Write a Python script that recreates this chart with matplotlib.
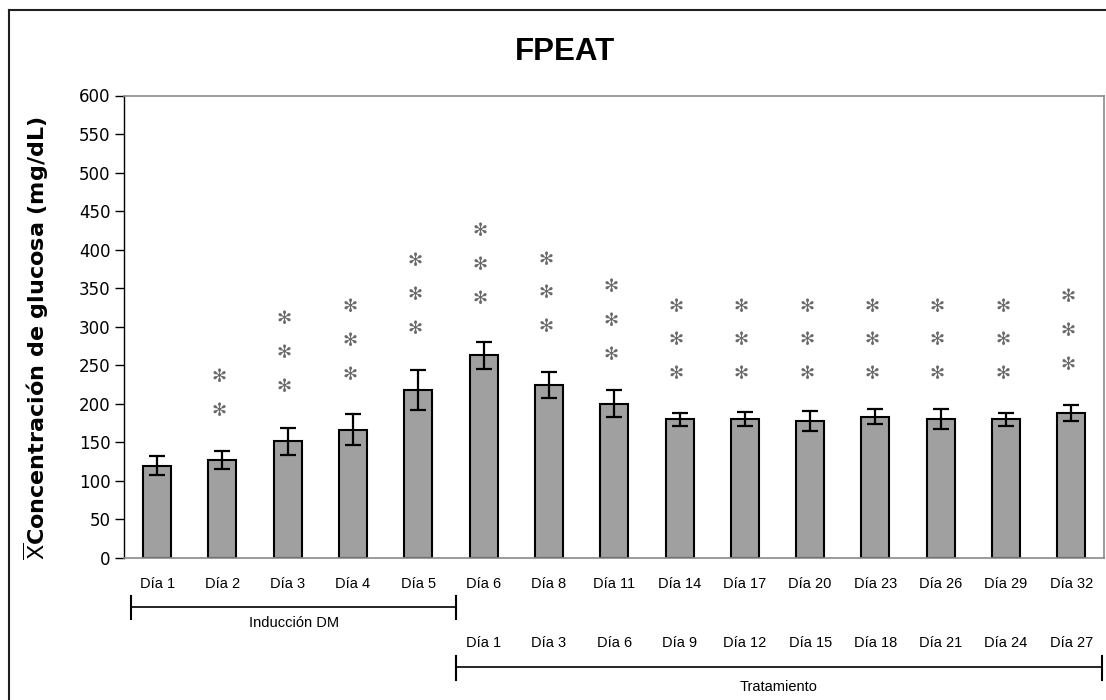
import matplotlib
matplotlib.use('Agg')
import matplotlib.pyplot as plt
from matplotlib.lines import Line2D
from matplotlib.transforms import blended_transform_factory
import numpy as np

# ---------------- data ----------------
title = "FPEAT"
days_top = ["Día 1", "Día 2", "Día 3", "Día 4", "Día 5", "Día 6", "Día 8", "Día 11",
            "Día 14", "Día 17", "Día 20", "Día 23", "Día 26", "Día 29", "Día 32"]
days_treat = ["Día 1", "Día 3", "Día 6", "Día 9", "Día 12", "Día 15", "Día 18",
              "Día 21", "Día 24", "Día 27"]
means = [119.5, 127, 151, 166, 218, 262.5, 224, 200, 179.5, 180, 177, 183, 179.5, 179.5, 187.5]
sds = [12, 12, 18, 20, 26, 18, 17, 18, 8, 9, 13, 9.5, 13, 8, 10.5]
star_counts = [0, 2, 3, 3, 3, 3, 3, 3, 3, 3, 3, 3, 3, 3, 3]
star_base = [0, 191, 222, 237, 297, 336, 299, 263, 238, 238, 238, 238, 238, 238, 250]
y_ticks = list(range(0, 601, 50))
group_labels = ["Inducción DM", "Tratamiento"]

# ---------------- figure ----------------
W, H = 1106, 700
fig = plt.figure(figsize=(W / 100, H / 100), dpi=100)
ax = fig.add_axes([124.5 / W, 1 - 557.7 / H, (1104 - 124.5) / W, (557.7 - 95.5) / H])

x = np.arange(len(means))
ax.bar(x, means, width=0.43, color='#a0a0a0', edgecolor='black', linewidth=1.5,
       yerr=sds, capsize=6,
       error_kw=dict(elinewidth=1.6, capthick=1.6, ecolor='black'), zorder=2)

# asterisks
star_step = 44
for i, (n, b) in enumerate(zip(star_counts, star_base)):
    for k in range(n):
        ax.text(i - 0.05, b + k * star_step, '✻', ha='center', va='center',
                fontsize=13, color='#6a6a6a', family='DejaVu Sans')

ax.set_xlim(-0.5, len(means) - 0.5)
ax.set_ylim(0, 600)
ax.set_yticks(y_ticks)
ax.set_yticklabels([str(v) for v in y_ticks], family='DejaVu Sans', fontsize=12)
ax.set_xticks(x)
ax.set_xticklabels(days_top, family='Liberation Sans', fontsize=10.5)
ax.tick_params(axis='y', direction='out', length=6.5, width=1, pad=3.5)
ax.tick_params(axis='x', length=0, pad=14)

for s in ['top', 'right', 'bottom']:
    ax.spines[s].set_color('#8a8a8a')
    ax.spines[s].set_linewidth(1.2)
ax.spines['left'].set_color('black')
ax.spines['left'].set_linewidth(1.0)
ax.spines['bottom'].set_zorder(3)

# second row of labels (treatment days)
for i, lab in enumerate(days_treat):
    ax.annotate(lab, xy=(5 + i, 0), xycoords=('data', 'axes fraction'),
                xytext=(0, -(643 - 557.7) * 0.72), textcoords='offset points',
                ha='center', va='center', family='Liberation Sans', fontsize=10.5)

# brackets
trans = blended_transform_factory(ax.transData, fig.transFigure)
def bracket(x0, x1, ypx, t0, t1, label, label_y):
    y = 1 - ypx / H
    fig.add_artist(Line2D([x0, x1], [y, y], transform=trans, color='black', lw=1.2))
    for xx in (x0, x1):
        fig.add_artist(Line2D([xx, xx], [1 - t0 / H, 1 - t1 / H], transform=trans,
                              color='black', lw=1.5))
    fig.text((x0 + x1) / 2, 1 - label_y / H, label, transform=trans, ha='center',
             va='center', family='Liberation Sans', fontsize=10.5)

bracket(-0.4, 4.58, 607, 596, 619, group_labels[0], 623)
bracket(4.57, 14.47, 667, 656, 680, group_labels[1], 687)

# y label
plt.rcParams['mathtext.fontset'] = 'dejavusans'
fig.text(36 / W, 1 - 338 / H, r'$\overline{\mathsf{X}}$Concentración de glucosa (mg/dL)',
         rotation=90, ha='center', va='center', fontsize=16, fontweight='bold',
         family='DejaVu Sans')

# title
fig.text(565 / W, 1 - 52 / H, title, ha='center', va='center', fontsize=22.5,
         fontweight='bold', family='Liberation Sans')

# outer frame (left and top visible)
fig.add_artist(Line2D([8.5 / W, 8.5 / W], [0, 1 - 9.5 / H], transform=fig.transFigure,
                      color='#202020', lw=1.5))
fig.add_artist(Line2D([8.5 / W, 1], [1 - 9.5 / H, 1 - 9.5 / H], transform=fig.transFigure,
                      color='#202020', lw=1.5))

fig.savefig('out.png', dpi=100)
